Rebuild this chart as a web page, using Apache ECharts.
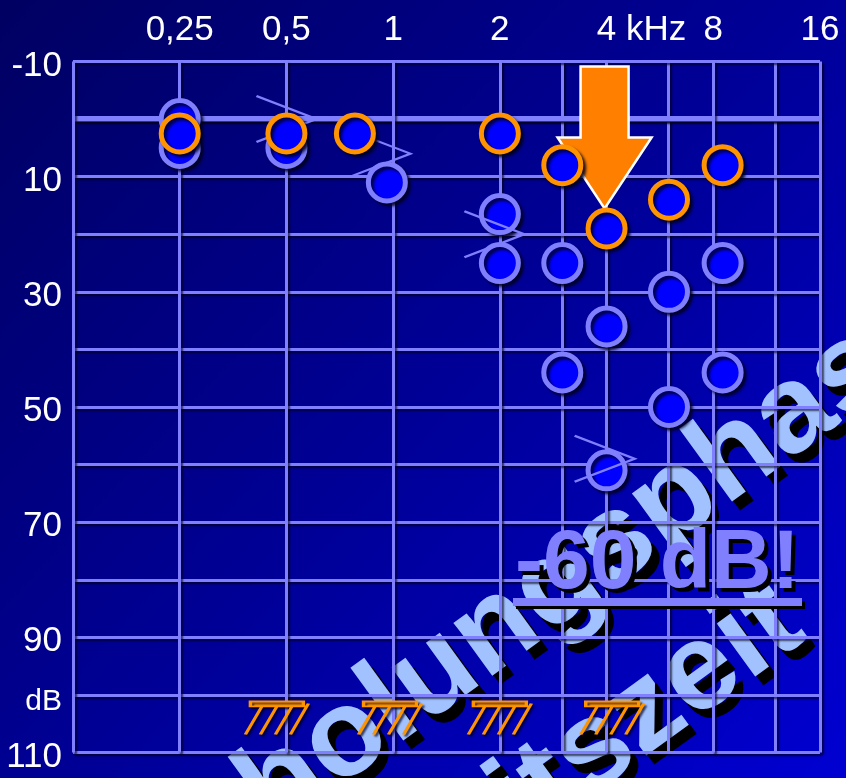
<!DOCTYPE html>
<html>
<head>
<meta charset="utf-8">
<script src="https://cdn.jsdelivr.net/npm/echarts@6/dist/echarts.min.js"></script>
<style>
  html, body { margin: 0; padding: 0; background: #000080; }
  #chart { width: 846px; height: 778px; }
</style>
</head>
<body>
<div id="chart"></div>
<script>
// Octave grid: 0.125 ... 16 kHz, labels along the top edge
const octaveLabels = ['', '0,25', '0,5', '1', '2', '4 kHz', '8', '16'];
// Half-octave grid lines (kHz)
const midFrequencies = [3, 6, 12];
// Hearing level ticks (dB) and their labels
const levelTicks = [-10, 10, 30, 50, 70, 90, 100, 110];
const levelLabels = ['-10', '10', '30', '50', '70', '90', 'dB', '110'];

// Air conduction thresholds, orange rings (kHz / dB HL)
const orangeFreq = [0.25, 0.5, 0.78, 2, 3, 4, 6, 8.5];
const orangeDb   = [2.5, 2.5, 2.5, 2.5, 8, 19, 14, 8];
// Air conduction thresholds, lavender rings
const lavFreq = [0.25, 0.25, 0.5, 0.96, 2, 2, 3, 3, 4, 4, 6, 6, 8.5, 8.5];
const lavDb   = [0, 5, 5, 11, 16.5, 25, 25, 44, 36, 61, 30, 50, 25, 44];
// Bone conduction marks '>'
const boneFreq = [0.5, 0.92, 1.93, 3.95];
const boneDb   = [0, 6, 20, 59];
// No-response marks at the limit of the audiometer
const nrFreq = [0.47, 0.98, 2, 4.15];
const nrDb   = [104, 104, 104, 104];

const LAV = '#8080ff';
const ORANGE = '#ff9400';
const FONT = '"Liberation Sans", Arial, sans-serif';
const log2 = Math.log2;
const pts = (fs, ds) => fs.map((f, i) => [log2(f), ds[i]]);

const chart = echarts.init(document.getElementById('chart'));

const lineShadow = { shadowColor: 'rgba(0,0,20,0.65)', shadowOffsetX: 2, shadowOffsetY: 2, shadowBlur: 2 };
const markerShadow = { shadowColor: 'rgba(0,0,30,0.8)', shadowOffsetX: 3, shadowOffsetY: 3, shadowBlur: 3 };

const option = {
  animation: false,
  backgroundColor: {
    type: 'linear', x: 0, y: 0, x2: 1, y2: 1,
    colorStops: [
      { offset: 0, color: '#000062' },
      { offset: 0.5, color: '#000096' },
      { offset: 1, color: '#0000d2' }
    ]
  },
  grid: { left: 73, right: 26, top: 61.5, bottom: 25.5 },
  xAxis: {
    type: 'value', position: 'top', min: -3, max: 4, interval: 1, zlevel: 1, z: 1,
    axisLine: { show: false }, axisTick: { show: false },
    axisLabel: {
      color: '#ffffff', fontFamily: FONT, fontSize: 35, margin: 14,
      formatter: v => {
        const t = octaveLabels[Math.round(v) + 3] || '';
        return t.indexOf('kHz') > 0 ? '{k|' + t + '}' : t;
      },
      rich: { k: { color: '#ffffff', fontFamily: FONT, fontSize: 35, padding: [0, 0, 0, 70] } }
    },
    splitLine: { show: true, lineStyle: Object.assign({ color: LAV, width: 3 }, lineShadow) }
  },
  yAxis: {
    type: 'value', inverse: true, min: -10, max: 110, interval: 10, zlevel: 1, z: 1,
    axisLine: { show: false }, axisTick: { show: false },
    axisLabel: {
      color: '#ffffff', fontFamily: FONT, fontSize: 35, margin: 11,
      padding: [9, 0, 0, 0],
      formatter: v => {
        const i = levelTicks.indexOf(v);
        if (i < 0) return '';
        return levelLabels[i] === 'dB' ? '{u|dB}' : levelLabels[i];
      },
      rich: { u: { color: '#ffffff', fontFamily: FONT, fontSize: 30, padding: [4, 0, 0, 0] } }
    },
    splitLine: { show: true, lineStyle: Object.assign({ color: LAV, width: 3 }, lineShadow) }
  },
  series: [
    {
      // extra grid lines and the bold 0 dB reference
      type: 'scatter', zlevel: 1, z: 1, silent: true, symbolSize: 0,
      data: [[0, 0]],
      markLine: {
        silent: true, symbol: 'none', label: { show: false },
        lineStyle: Object.assign({ color: LAV, width: 3, type: 'solid' }, lineShadow),
        data: midFrequencies.map(f => ({ xAxis: log2(f) }))
          .concat([{ yAxis: 0, lineStyle: { width: 6, color: LAV } }])
      }
    },
    {
      type: 'scatter', zlevel: 1, z: 5, symbol: 'circle', symbolSize: 37,
      itemStyle: Object.assign({ color: '#0000ff', borderColor: LAV, borderWidth: 5, opacity: 1 }, markerShadow),
      data: pts(lavFreq, lavDb)
    },
    {
      type: 'scatter', zlevel: 1, z: 6,
      symbol: 'path://M0,0 L60,23 L0,46', symbolSize: [60, 46],
      itemStyle: { color: 'none', borderColor: LAV, borderWidth: 2.5, opacity: 1 },
      data: pts(boneFreq, boneDb)
    },
    {
      type: 'scatter', zlevel: 1, z: 7, symbol: 'circle', symbolSize: 37,
      itemStyle: Object.assign({ color: '#0000ff', borderColor: ORANGE, borderWidth: 5, opacity: 1 }, markerShadow),
      data: pts(orangeFreq, orangeDb)
    },
    {
      type: 'scatter', zlevel: 1, z: 4,
      symbol: 'path://M5,0 L58,0 L58,5 L5,5 Z M17,4 L0,33 M32,4 L15,33 M47,4 L30,33 M63,2 L45,33',
      symbolSize: [63, 33],
      itemStyle: { color: ORANGE, borderColor: ORANGE, borderWidth: 2.5, opacity: 1,
        shadowColor: 'rgba(0,0,30,0.7)', shadowOffsetX: 2, shadowOffsetY: 2, shadowBlur: 2 },
      data: pts(nrFreq, nrDb)
    }
  ]
};
chart.setOption(option);

// Arrow pointing down at the 4 kHz threshold of the orange series
const target = chart.convertToPixel({ xAxisIndex: 0, yAxisIndex: 0 }, [log2(4), orangeDb[5]]);
const tipX = target[0] - 2, tipY = target[1] - 20;
const arrowPts = [
  [tipX - 24, tipY - 142], [tipX + 24, tipY - 142], [tipX + 24, tipY - 71],
  [tipX + 47, tipY - 71], [tipX, tipY], [tipX - 47, tipY - 71], [tipX - 24, tipY - 71]
];

// Large diagonal lettering behind the grid
const wmFont = 'bold 124px ' + FONT;
const wmAngle = 36 * Math.PI / 180;
function watermark(text, x, y) {
  return [
    { type: 'text', zlevel: 0, z: 0, x: x + 8, y: y + 9, rotation: wmAngle, silent: true,
      style: { text, font: wmFont, fill: '#000000', align: 'left', verticalAlign: 'bottom' } },
    { type: 'text', zlevel: 0, z: 1, x, y, rotation: wmAngle, silent: true,
      style: { text, font: wmFont, fill: '#a2c2ff', align: 'left', verticalAlign: 'bottom' } }
  ];
}

const bigFont = 'bold 84px ' + FONT;
chart.setOption({
  graphic: [].concat(
    watermark('Erholungsphase', 184, 934),
    watermark('Arbeitszeit', 313, 1032),
    [
      { type: 'polygon', zlevel: 1, z: 3, silent: true,
        shape: { points: arrowPts },
        style: { fill: '#ff8000', stroke: '#ffffff', lineWidth: 2.5 } },
      { type: 'text', zlevel: 1, z: 2, x: 519, y: 611, silent: true,
        style: { text: '-60 dB!', font: bigFont, fill: '#000000', align: 'left', verticalAlign: 'bottom' } },
      { type: 'text', zlevel: 1, z: 2, x: 515, y: 607, silent: true,
        style: { text: '-60 dB!', font: bigFont, fill: '#8080ff', align: 'left', verticalAlign: 'bottom' } },
      { type: 'rect', zlevel: 1, z: 2, silent: true, shape: { x: 516, y: 601, width: 289, height: 8 },
        style: { fill: '#000000' } },
      { type: 'rect', zlevel: 1, z: 2, silent: true, shape: { x: 513, y: 598, width: 289, height: 8 },
        style: { fill: '#8080ff' } }
    ]
  )
});
</script>
</body>
</html>
